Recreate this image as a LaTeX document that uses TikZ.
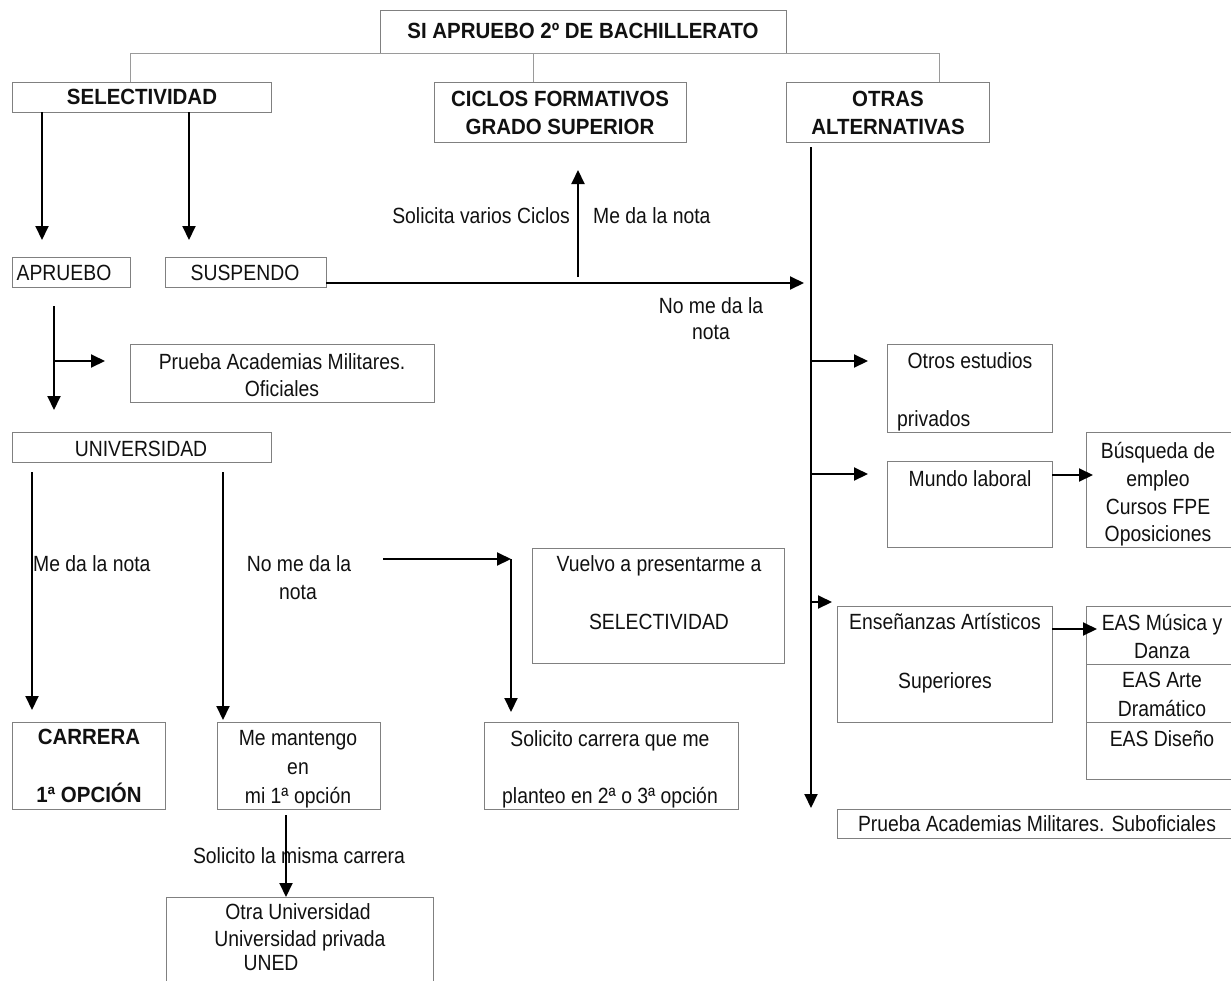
\documentclass[tikz,border=0pt]{standalone}
\usepackage{fontspec}
\setmainfont{Liberation Sans}[FakeStretch=0.88]
\newfontfamily\bff{Liberation Sans Bold}[FakeStretch=0.93]
\usetikzlibrary{arrows.meta}
\definecolor{boxgray}{HTML}{808080}
\definecolor{treegray}{HTML}{9A9A9A}
\definecolor{ink}{HTML}{111111}
\newcommand\fs{\fontsize{22}{28}\selectfont}
\newcommand\bx[5]{\node[box, minimum width={(#4-#2)*1pt}, minimum height={(#5-#3)*1pt}] (#1) at (#2,#3) {};}
\newcommand\tx[4][]{\node[txt,#1] (#2) at (#3) {#4};}
\newcommand\tb[4][]{\node[txtb,#1] (#2) at (#3) {#4};}
\begin{document}
\begin{tikzpicture}[x=1pt,y=-1pt,
  box/.style={draw=boxgray, line width=1pt, rectangle, inner sep=0pt, outer sep=0pt, anchor=north west},
  txt/.style={inner sep=0pt, anchor=mid, yshift=-3.5pt, font=\fs, text=ink},
  txtb/.style={inner sep=0pt, anchor=mid, yshift=-3.5pt, font=\bff\fs, text=ink},
  arr/.style={draw=black, line width=2pt, -{Triangle[length=14pt,width=13pt]}},
  tree/.style={draw=treegray, line width=1pt}]
\useasboundingbox (0,0) rectangle (1231,980);
\fill[white] (0,0) rectangle (1231,980);
% boxes
\bx{top}{380}{10}{786}{53}
\bx{sel}{12}{82}{271}{112}
\bx{cic}{434}{82}{686}{142}
\bx{otr}{786}{82}{989}{142}
\bx{apr}{12}{257}{130}{287}
\bx{sus}{165}{257}{326}{287}
\bx{pof}{130}{344}{434}{402}
\bx{uni}{12}{432}{271}{462}
\bx{vue}{532}{548}{784}{663}
\bx{car}{12}{722}{165}{809}
\bx{mant}{217}{722}{380}{809}
\bx{sol}{484}{722}{738}{809}
\bx{otra}{166}{897}{433}{982}
\bx{oes}{887}{344}{1052}{432}
\bx{mun}{887}{461}{1052}{547}
\bx{bus}{1086}{432}{1233}{547}
\bx{ens}{837}{606}{1052}{722}
\bx{easa}{1086}{606}{1233}{664}
\bx{easb}{1086}{664}{1233}{722}
\bx{easc}{1086}{722}{1233}{779}
\bx{sub}{837}{809}{1233}{838}
% texts
\tb{ttop}{583,32}{SI APRUEBO 2º DE BACHILLERATO}
\tb{tsel}{142,98}{SELECTIVIDAD}
\tb{tcica}{560,100}{CICLOS FORMATIVOS}
\tb{tcicb}{560,128}{GRADO SUPERIOR}
\tb{totra}{888,100}{OTRAS}
\tb{totrb}{888,128}{ALTERNATIVAS}
\tx{tapr}{64,274}{APRUEBO}
\tx{tsus}{245,274}{SUSPENDO}
\tx[anchor=mid east]{lsol}{570,217}{Solicita varios Ciclos}
\tx[anchor=mid west]{lmda}{593,217}{Me da la nota}
\tx{lnoa}{711,307}{No me da la}
\tx{lnob}{711,333}{nota}
\tx{tpofa}{282,363}{Prueba Academias Militares.}
\tx{tpofb}{282,390}{Oficiales}
\tx{tuni}{141,450}{UNIVERSIDAD}
\tx[anchor=mid west]{lmdb}{33,565}{Me da la nota}
\tx{lnoc}{299,565}{No me da la}
\tx{lnod}{298,593}{nota}
\tx{tvuea}{659,565}{Vuelvo a presentarme a}
\tx{tvueb}{659,623}{SELECTIVIDAD}
\tb{tcara}{89,738}{CARRERA}
\tb{tcarb}{89,796}{1ª OPCIÓN}
\tx{tmana}{298,739}{Me mantengo}
\tx{tmanb}{298,768}{en}
\tx{tmanc}{298,797}{mi 1ª opción}
\tx{tsola}{610,740}{Solicito carrera que me}
\tx{tsolb}{610,797}{planteo en 2ª o 3ª opción}
\tx{lmis}{299,857}{Solicito la misma carrera}
\tx{totraa}{298,913}{Otra Universidad}
\tx{totrab}{300,940}{Universidad privada}
\tx{totrac}{271,964}{UNED}
\tx{toesa}{970,362}{Otros estudios}
\tx[anchor=mid west]{toesb}{897,420}{privados}
\tx{tmun}{970,480}{Mundo laboral}
\tx{tbusa}{1158,452}{Búsqueda de}
\tx{tbusb}{1158,480}{empleo}
\tx{tbusc}{1158,508}{Cursos FPE}
\tx{tbusd}{1158,535}{Oposiciones}
\tx{tensa}{945,623}{Enseñanzas Artísticos}
\tx{tensb}{945,682}{Superiores}
\tx{teasa}{1162,624}{EAS Música y}
\tx{teasb}{1162,652}{Danza}
\tx{teasc}{1162,681}{EAS Arte}
\tx{teasd}{1162,710}{Dramático}
\tx{tease}{1162,740}{EAS Diseño}
\tx{tsub}{1037,825}{Prueba Academias Militares. Suboficiales}
% tree
\coordinate (tl) at (130,53);
\coordinate (tm) at (533,53);
\coordinate (tr) at (939,53);
\draw[tree] (sel.north -| tl) -- (tl) -- (tr) -- (otr.north -| tr);
\draw[tree] (tm) -- (cic.north -| tm);
% coordinates
\coordinate (a1) at (42,240);
\coordinate (a2) at (189,240);
\coordinate (h1) at (804,283);
\coordinate (u0) at (578,277);
\coordinate (u1) at (578,170);
\coordinate (o0) at (811,147);
\coordinate (o1) at (811,808);
\coordinate (ob1) at (868,361);
\coordinate (ob2) at (868,474);
\coordinate (ob3) at (832,602);
\coordinate (p0) at (54,306);
\coordinate (p1) at (54,410);
\coordinate (p2) at (105,361);
\coordinate (q1) at (32,710);
\coordinate (q2) at (223,720);
\coordinate (r0) at (383,559);
\coordinate (r1) at (511,559);
\coordinate (r2) at (511,712);
\coordinate (m0) at (286,815);
\coordinate (m1) at (1093,475);
\coordinate (e1) at (1097,629);
% arrows
\draw[arr] (sel.south -| a1) -- (a1);
\draw[arr] (sel.south -| a2) -- (a2);
\draw[arr] (sus.east |- h1) -- (h1);
\draw[arr] (u0) -- (u1);
\draw[arr] (o0) -- (o1);
\draw[arr] (o0 |- ob1) -- (ob1);
\draw[arr] (o0 |- ob2) -- (ob2);
\draw[arr] (o0 |- ob3) -- (ob3);
\draw[arr] (p0) -- (p1);
\draw[arr] (p0 |- p2) -- (p2);
\draw[arr] (uni.south -| q1) ++(0,10) -- (q1);
\draw[arr] (uni.south -| q2) ++(0,10) -- (q2);
\draw[arr] (r0) -- (r1);
\draw[arr] (r1) -- (r2);
\draw[arr] (m0) -- (otra.north -| m0);
\draw[arr] (mun.east |- m1) -- (m1);
\draw[arr] (ens.east |- e1) -- (e1);
\end{tikzpicture}
\end{document}
